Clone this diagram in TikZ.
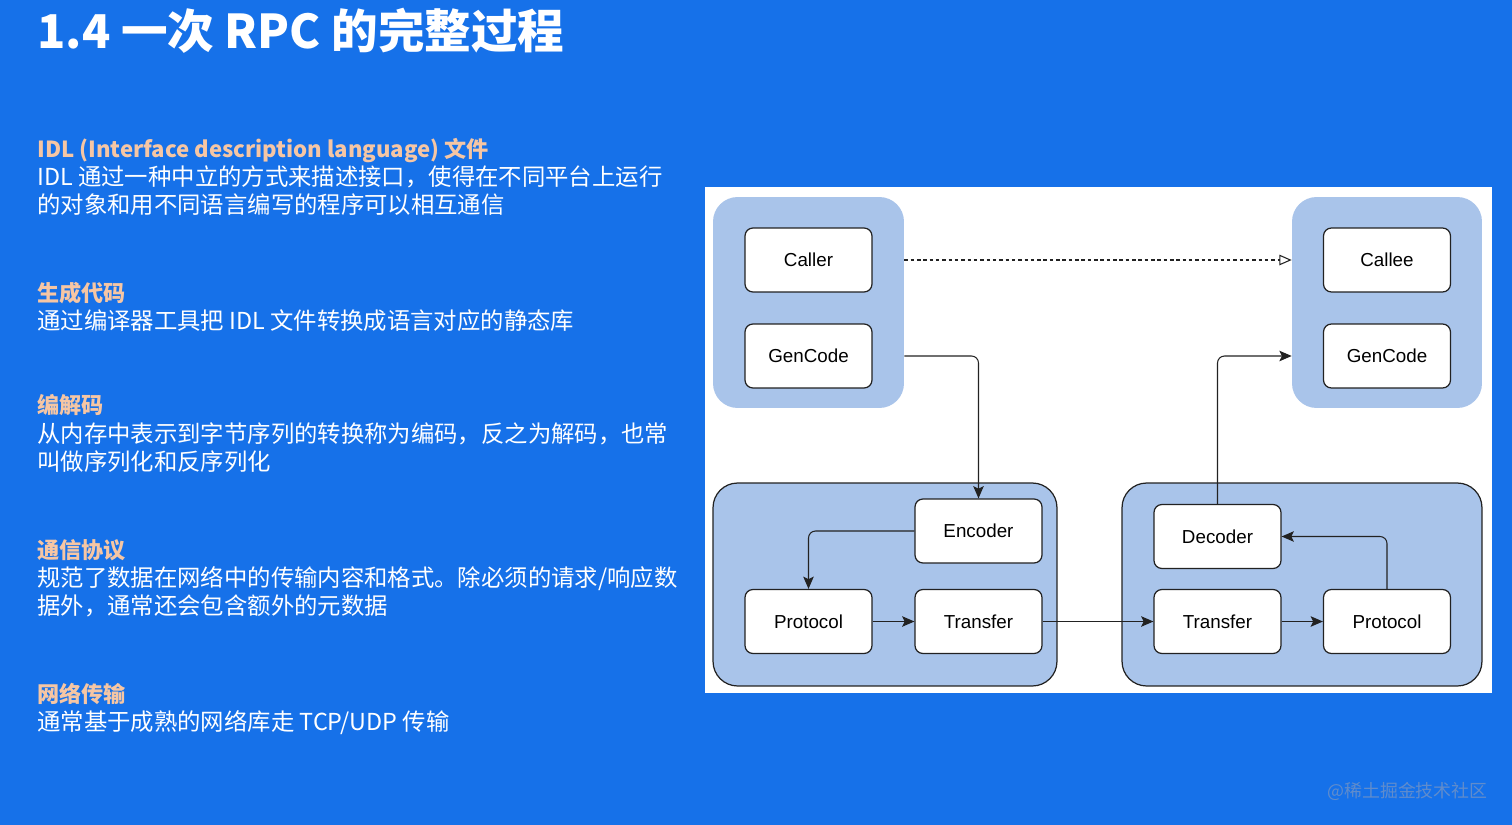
\documentclass[tikz,border=0pt]{standalone}
\usepackage{fontspec}
\setmainfont{Noto Sans CJK SC}
\newfontfamily\boxfont{Liberation Sans}
\usetikzlibrary{arrows.meta}
\definecolor{slidebg}{RGB}{22,113,233}
\definecolor{headpeach}{RGB}{246,198,164}
\definecolor{grpblue}{RGB}{169,196,234}
\definecolor{linedark}{RGB}{34,34,34}
\definecolor{markgray}{RGB}{96,140,204}

\begin{document}
\begin{tikzpicture}[x=0.02cm,y=-0.02cm,>={Stealth[length=7pt,width=6pt,inset=1.5pt]},
  box/.style={draw=linedark,line width=0.7pt,fill=white,rounded corners=4.5pt,
    minimum width=2.54cm,minimum height=1.28cm,inner sep=0pt,
    font=\boxfont\fontsize{10.7}{12}\selectfont},
  group/.style={fill=grpblue,rounded corners=14pt,inner sep=0pt},
  framed/.style={group,draw=linedark,line width=0.7pt},
  link/.style={draw=linedark,line width=0.6pt,rounded corners=4pt,->},
  calllink/.style={draw=linedark,line width=0.6pt,dash pattern=on 2pt off 1.6pt,
    -{Triangle[open,length=7pt,width=6pt]}},
  head/.style={anchor=base west,inner sep=0pt,text=headpeach,
    font=\fontsize{12.6}{16}\selectfont\bfseries},
  body/.style={anchor=base west,inner sep=0pt,text=white,align=left,
    font=\fontsize{13.3}{15.9}\selectfont}]
  % slide and panel
  \fill[slidebg] (0,0) rectangle (1512,825);
  \useasboundingbox (0,0) rectangle (1512,825);
  \fill[white] (705,187) rectangle (1492,693);

  \node[anchor=base west,inner sep=0pt,text=white,font=\fontsize{26.5}{30}\selectfont\bfseries]
    (title) at (37,48) {1.4 一次 RPC 的完整过程};

  % left column (base = last line)
  \node[head] (h1) at (37,157) {IDL (Interface description language) 文件};
  \node[body] (b1) at (37,213) {IDL 通过一种中立的方式来描述接口，使得在不同平台上运行\\的对象和用不同语言编写的程序可以相互通信};
  \node[head] (h2) at (37,301) {生成代码};
  \node[body] (b2) at (37,329) {通过编译器工具把 IDL 文件转换成语言对应的静态库};
  \node[head] (h3) at (37,413) {编解码};
  \node[body] (b3) at (37,470) {从内存中表示到字节序列的转换称为编码，反之为解码，也常\\叫做序列化和反序列化};
  \node[head] (h4) at (37,558) {通信协议};
  \node[body] (b4) at (37,614) {规范了数据在网络中的传输内容和格式。除必须的请求/响应数\\据外，通常还会包含额外的元数据};
  \node[head] (h5) at (37,702) {网络传输};
  \node[body] (b5) at (37,730) {通常基于成熟的网络库走 TCP/UDP 传输};

  % groups
  \node[group,minimum width=3.82cm,minimum height=4.22cm] (grpA) at (808.5,302.5) {};
  \node[group,minimum width=3.8cm,minimum height=4.22cm] (grpB) at (1387,302.5) {};
  \node[framed,minimum width=6.88cm,minimum height=4.06cm] (grpC) at (885,584.5) {};
  \node[framed,minimum width=7.2cm,minimum height=4.06cm] (grpD) at (1302,584.5) {};

  % boxes
  \node[box] (caller) at (808.5,260) {Caller};
  \node[box] (gencL) at (808.5,356) {GenCode};
  \node[box] (callee) at (1387,260) {Callee};
  \node[box] (gencR) at (1387,356) {GenCode};
  \node[box] (encoder) at (978.5,531) {Encoder};
  \node[box] (protoL) at (808.5,621.5) {Protocol};
  \node[box] (transL) at (978.5,621.5) {Transfer};
  \node[box] (decoder) at (1217.5,536.5) {Decoder};
  \node[box] (transR) at (1217.5,621.5) {Transfer};
  \node[box] (protoR) at (1387,621.5) {Protocol};

  % connectors
  \draw[calllink] (grpA.east |- caller) -- (grpB.west |- callee);
  \draw[link] (grpA.east |- gencL) -| (encoder.north);
  \draw[link] (encoder.west) -| (protoL.north);
  \draw[link] (protoL) -- (transL);
  \draw[link] (transL) -- (transR);
  \draw[link] (transR) -- (protoR);
  \draw[link] (protoR.north) |- (decoder.east);
  \draw[link] (decoder.north) |- (grpB.west |- gencR);

  \node[anchor=base east,inner sep=0pt,text=markgray,font=\fontsize{10.2}{12}\selectfont]
    (mark) at (1488,797) {@稀土掘金技术社区};
\end{tikzpicture}
\end{document}
